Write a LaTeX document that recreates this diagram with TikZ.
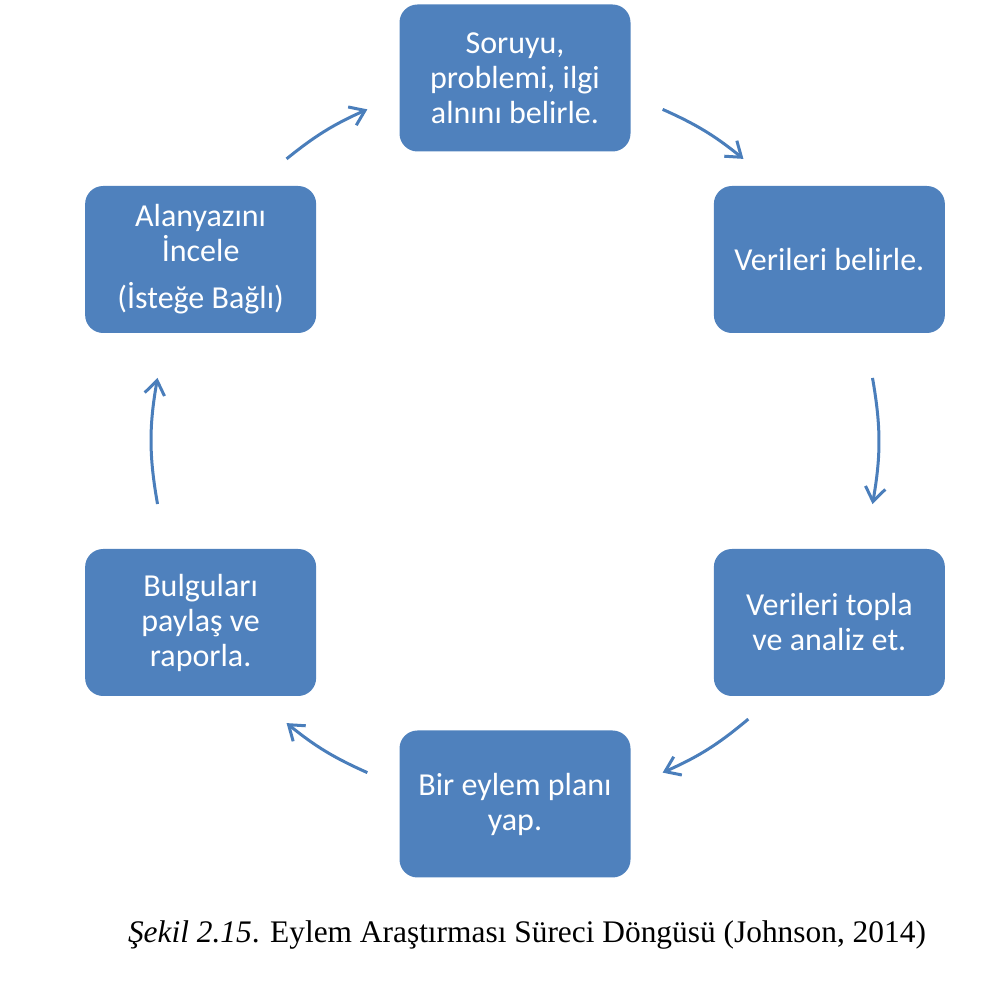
\documentclass[tikz,border=0pt]{standalone}
\usepackage{fontspec}
\setmainfont{Liberation Serif}
\newfontfamily\boxfont{Carlito}
\usepackage{xcolor}
\usepackage{tikz}
\usetikzlibrary{calc,arrows.meta}
\definecolor{StepBlue}{HTML}{4F81BD}
\definecolor{ArrowBlue}{HTML}{4A7EBB}

\tikzset{
  stepbox/.style={fill=StepBlue, draw=none, rounded corners=9pt,
                  minimum width=115.5pt, minimum height=73.5pt,
                  align=center, text=white,
                  font=\boxfont\fontsize{16}{17.5}\selectfont},
  cycarrow/.style={draw=ArrowBlue, line width=1.5pt,
                   -{Straight Barb[length=7pt,width=10pt,line width=1.5pt]}}
}

\begin{document}
\begin{tikzpicture}[x=0.5pt,y=0.5pt]
        \useasboundingbox (0,0) rectangle (980,985);
        \def\R{363}
        \coordinate (ctr) at (515,544);

        % steps of the cycle
        \node[stepbox] (soru)   at ($(ctr)+(90:\R)$)  {Soruyu,\\ problemi, ilgi\\ alnını belirle.};
        \node[stepbox] (veri)   at ($(ctr)+(30:\R)$)  {Verileri belirle.};
        \node[stepbox] (topla)  at ($(ctr)+(-30:\R)$) {Verileri topla\\ ve analiz et.};
        \node[stepbox] (plan)   at ($(ctr)+(-90:\R)$) {Bir eylem planı\\ yap.};
        \node[stepbox] (bulgu)  at ($(ctr)+(-150:\R)$) {Bulguları\\ paylaş ve\\ raporla.};
        \node[stepbox] (alan)   at ($(ctr)+(150:\R)$) {Alanyazını\\ İncele\\[6pt] (İsteğe Bağlı)};

        % arrows between the boxes
        \foreach \i/\a/\b/\h in {1/129/114/7.5, 2/66/51/7.5, 3/10/-10/10,
                                 4/-50/-66/8, 5/-114/-129/7.5, 6/190/170/10}{
          \coordinate (s\i) at ($(ctr)+(\a:\R)$);
          \coordinate (e\i) at ($(ctr)+(\b:\R)$);
          \draw[cycarrow] (s\i) to[bend left=\h] (e\i);
        }

        \node[font=\fontsize{15.7}{18}\selectfont] (caption) at (527,50)
          {\textit{Şekil 2.15}. Eylem Araştırması Süreci Döngüsü (Johnson, 2014)};
      \end{tikzpicture}
\end{document}
